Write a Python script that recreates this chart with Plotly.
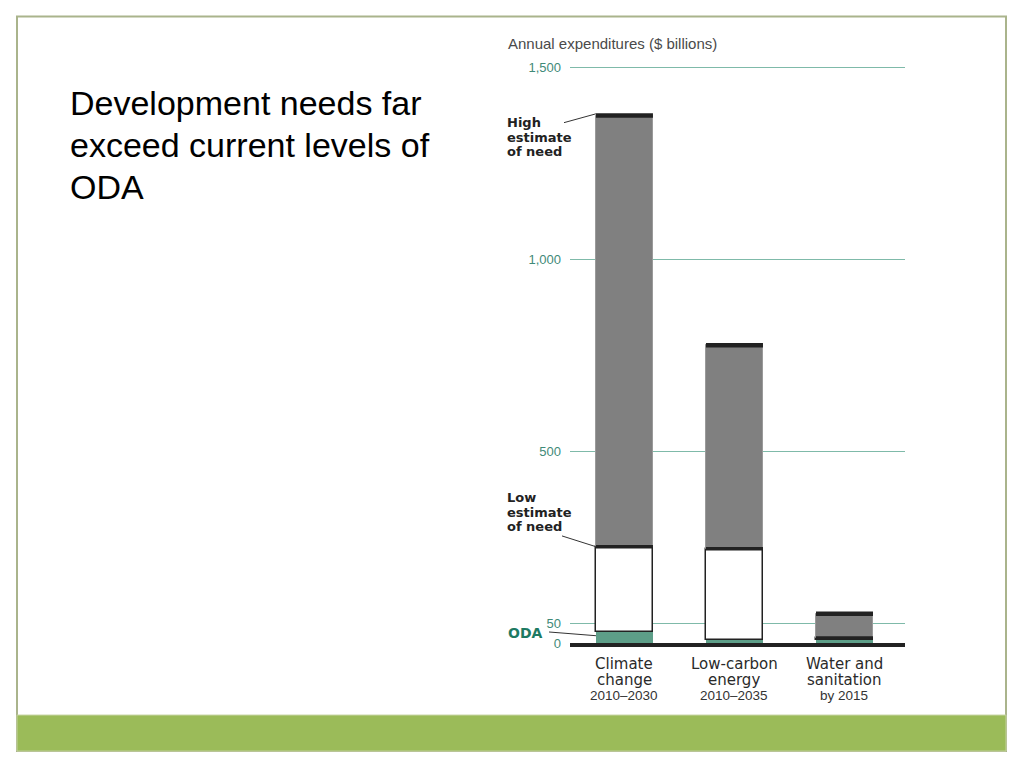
import plotly.graph_objects as go

# ---------------- data ----------------
categories = ["Climate change", "Low-carbon energy", "Water and sanitation"]
label_line1 = ["Climate", "Low-carbon", "Water and"]
label_line2 = ["change", "energy", "sanitation"]
periods = ["2010–2030", "2010–2035", "by 2015"]
oda = [28, 7, 9]
low_need = [251, 246, 13]
high_need = [1375, 776, 76]
y_tickvals = [0, 50, 500, 1000, 1500]
y_ticktext = ["0", "50", "500", "1,000", "1,500"]

# ---------------- geometry helpers ----------------
OFF = 8                                   # page body margin
W, H = 1024 - 2 * OFF, 768 - 2 * OFF
YMIN, YMAX = 0, 1512
PX_PER_UNIT = (643 - 68) / 1500
L, R, B = 570, 905, 643                  # plot area in screen pixels
T = B - YMAX * PX_PER_UNIT
XMIN, XMAX = -0.495, 2.55
BW = 0.518
pos = list(range(len(categories)))


def px(x):
    return (x - L) / (R - L)


def py(y):
    return (B - y) / (B - T)


def dx(x):
    return (x - XMIN) / (XMAX - XMIN)


def dy(y):
    return (y - YMIN) / (YMAX - YMIN)


FONT = "Liberation Sans, Arial, Helvetica, sans-serif"
WIDE = "DejaVu Sans, Verdana, sans-serif"
GRAY_BAR = "#808080"
BLACK = "#222222"
GREEN = "#5d9e88"
TEAL_TXT = "#3f8a78"
GRID = "#7fbaa9"

fig = go.Figure()

# ODA (green)
fig.add_trace(go.Bar(x=pos, y=oda, base=[0] * 3, width=BW,
                     marker=dict(color=GREEN, line=dict(width=0)),
                     showlegend=False, hoverinfo="skip"))
# low estimate (white, outlined)
fig.add_trace(go.Bar(x=pos, y=[l - o for l, o in zip(low_need, oda)], base=oda, width=BW,
                     marker=dict(color="white", line=dict(color=BLACK, width=1.5)),
                     showlegend=False, hoverinfo="skip"))
# high estimate (gray)
fig.add_trace(go.Bar(x=pos, y=[h - l for h, l in zip(high_need, low_need)], base=low_need, width=BW,
                     marker=dict(color=GRAY_BAR, line=dict(color="#9a9a9a", width=1)),
                     showlegend=False, hoverinfo="skip"))

# black bands at low and high estimates
for vals, lw in ((low_need, 3.5), (high_need, 4.5)):
    xs, ys = [], []
    for p, v in zip(pos, vals):
        xs += [p - BW / 2, p + BW / 2, None]
        ys += [v, v, None]
    fig.add_trace(go.Scatter(x=xs, y=ys, mode="lines", line=dict(color=BLACK, width=lw),
                             showlegend=False, hoverinfo="skip"))

annotations = []


def add_text(text, x_px, y_px, size, color, bold=False, xanchor="left", xref_data=None, family=FONT):
    t = f"<b>{text}</b>" if bold else text
    a = dict(text=t, y=py(y_px), yref="paper", xanchor=xanchor, yanchor="middle",
             showarrow=False, font=dict(family=family, size=size, color=color))
    if xref_data is not None:
        a.update(x=xref_data, xref="x")
    else:
        a.update(x=px(x_px), xref="paper")
    annotations.append(a)


# slide title
for i, line in enumerate(["Development needs far", "exceed current levels of", "ODA"]):
    add_text(line, 68, 103 + 42 * i, 34, "#000000")

# axis title
add_text("Annual expenditures ($ billions)", 506, 44, 15, "#4a4a4a")

# side labels
for i, line in enumerate(["High", "estimate", "of need"]):
    add_text(line, 505, 123 + 14.5 * i, 13, "#222222", bold=True, family=WIDE)
for i, line in enumerate(["Low", "estimate", "of need"]):
    add_text(line, 505, 498 + 14.5 * i, 13, "#222222", bold=True, family=WIDE)
add_text("ODA", 506, 633, 14, "#1d7a62", bold=True, family=WIDE)

# category labels
for p, a, b, c in zip(pos, label_line1, label_line2, periods):
    add_text(a, 0, 664, 15, "#2a2a2a", xanchor="center", xref_data=p, family=WIDE)
    add_text(b, 0, 679.5, 15, "#2a2a2a", xanchor="center", xref_data=p, family=WIDE)
    add_text(c, 0, 695, 13.5, "#333333", xanchor="center", xref_data=p)

shapes = []
# leader lines
x0 = pos[0] - BW / 2
shapes.append(dict(type="line", xref="paper", yref="paper", x0=px(564), y0=py(123),
                   x1=dx(x0), y1=dy(high_need[0]) + 0.003, line=dict(color="#333333", width=1)))
shapes.append(dict(type="line", xref="paper", yref="paper", x0=px(562), y0=py(536),
                   x1=dx(x0), y1=dy(low_need[0]), line=dict(color="#333333", width=1)))
shapes.append(dict(type="line", xref="paper", yref="paper", x0=px(549), y0=py(632),
                   x1=dx(x0), y1=dy(oda[0] / 2 + 5), line=dict(color="#333333", width=1)))
# slide frame
shapes.append(dict(type="rect", xref="paper", yref="paper", x0=px(17), y0=py(17), x1=px(1006), y1=py(751),
                   line=dict(color="#aab48c", width=2), fillcolor="rgba(0,0,0,0)", layer="below"))
# green footer band
shapes.append(dict(type="rect", xref="paper", yref="paper", x0=px(17), y0=py(715), x1=px(1006), y1=py(751),
                   line=dict(color="#c5d3a0", width=1), fillcolor="#9bbb59", layer="below"))

fig.update_layout(
    width=W, height=H, autosize=False,
    margin=dict(l=L - OFF, r=W - (R - OFF), t=T - OFF, b=H - (B - OFF), pad=0),
    paper_bgcolor="white", plot_bgcolor="white",
    barmode="overlay", bargap=0,
    font=dict(family=FONT),
    xaxis=dict(range=[XMIN, XMAX], showgrid=False, zeroline=False, showticklabels=False,
               showline=True, linecolor=BLACK, linewidth=4, ticks=""),
    yaxis=dict(range=[YMIN, YMAX], tickvals=y_tickvals, ticktext=y_ticktext,
               showgrid=True, gridcolor=GRID, gridwidth=1, zeroline=False, showline=False,
               tickfont=dict(family=FONT, size=13, color=TEAL_TXT), ticks="",
               ticklabelstandoff=8),
    annotations=annotations,
    shapes=shapes,
)

fig.write_html("out.html")
